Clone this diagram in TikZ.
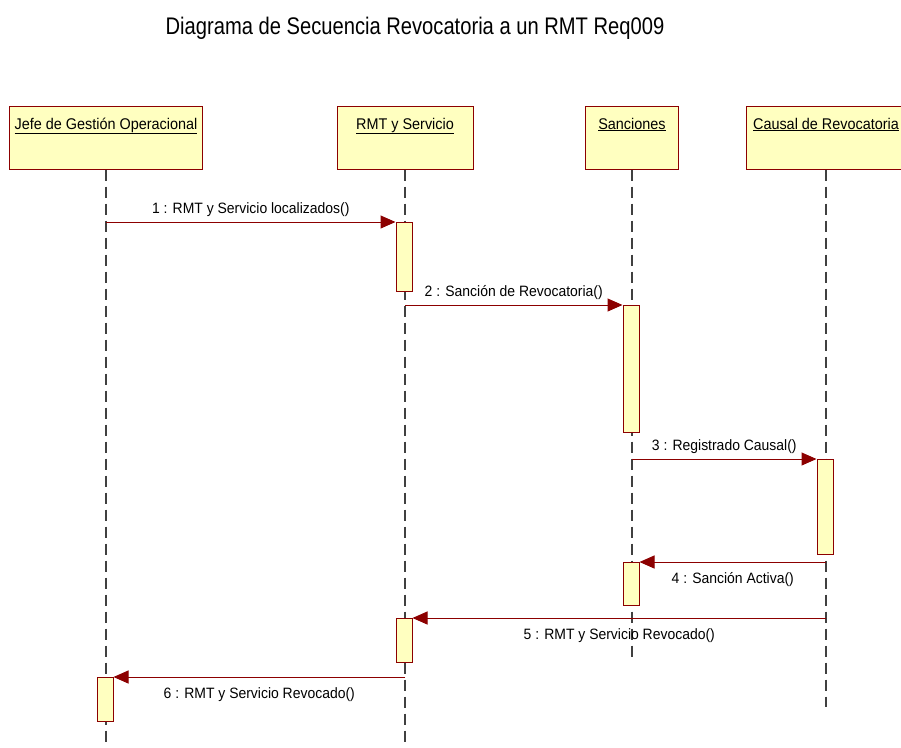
\documentclass[tikz,border=0pt]{standalone}
\usepackage{fontspec}
\setmainfont{Liberation Sans}[FakeStretch=0.93]
\newfontfamily\titlefont{Liberation Sans}[FakeStretch=0.84]
\usetikzlibrary{arrows.meta}
\definecolor{linea}{RGB}{140,0,0}
\definecolor{relleno}{RGB}{255,255,192}
\definecolor{gris}{RGB}{64,64,64}
\begin{document}
\begin{tikzpicture}[x=1pt,y=-1pt,font=\fontsize{15}{18}\selectfont,
  obj/.style={draw=linea,fill=relleno,line width=1pt,inner sep=0pt,minimum height=63pt,text height=23pt,text depth=40pt,font=\fontsize{15.5}{18}\selectfont},
  act/.style={draw=linea,fill=relleno,line width=1pt,minimum width=16pt,inner sep=0pt,anchor=north},
  msg/.style={draw=linea,line width=1pt,-{Triangle[length=15pt,width=13pt]}},
  vida/.style={draw=gris,line width=1.5pt,dash pattern=on 11pt off 6pt}]
\useasboundingbox(0,0)rectangle(901,747);
\node[font=\titlefont\fontsize{24}{28}\selectfont,anchor=base](titulo) at (415,34){Diagrama de Secuencia Revocatoria a un RMT Req009};
% objetos y lineas de vida
\foreach \n/\x/\ancho/\txt/\fin in {jefe/106/193/Jefe de Gestión Operacional/747,rmt/405/136/RMT y Servicio/747,sanc/632/93/Sanciones/658,causal/826/160/Causal de Revocatoria/707}{
  \node[obj,minimum width=\ancho pt](\n) at (\x,137.5){\underline{\txt}};
  \coordinate(\n-fin) at (\x,\fin);
  \draw[vida](\n.south)--(\n-fin);
}
% activaciones
\node[act,minimum height=69pt](a1) at (404,222){};
\node[act,minimum height=127pt](a2) at (631,305){};
\node[act,minimum height=95pt](a3) at (825,459){};
\node[act,minimum height=43pt](a4) at (631,562){};
\node[act,minimum height=44pt](a5) at (404,618){};
\node[act,minimum height=44pt](a6) at (105,677){};
% mensajes
\draw[msg](jefe |- a1.north)--node[above,inner sep=5pt](m1){1 : RMT y Servicio localizados()}(a1.north west);
\draw[msg](rmt |- a2.north)--node[above,inner sep=5pt](m2){2 : Sanción de Revocatoria()}(a2.north west);
\draw[msg](sanc |- a3.north)--node[above,inner sep=5pt](m3){3 : Registrado Causal()}(a3.north west);
\draw[msg](causal |- a4.north)--node[below,inner sep=10pt](m4){4 : Sanción Activa()}(a4.north east);
\draw[msg](causal |- a5.north)--node[below,inner sep=10pt](m5){5 : RMT y Servicio Revocado()}(a5.north east);
\draw[msg](rmt |- a6.north)--node[below,inner sep=10pt](m6){6 : RMT y Servicio Revocado()}(a6.north east);
\end{tikzpicture}
\end{document}
